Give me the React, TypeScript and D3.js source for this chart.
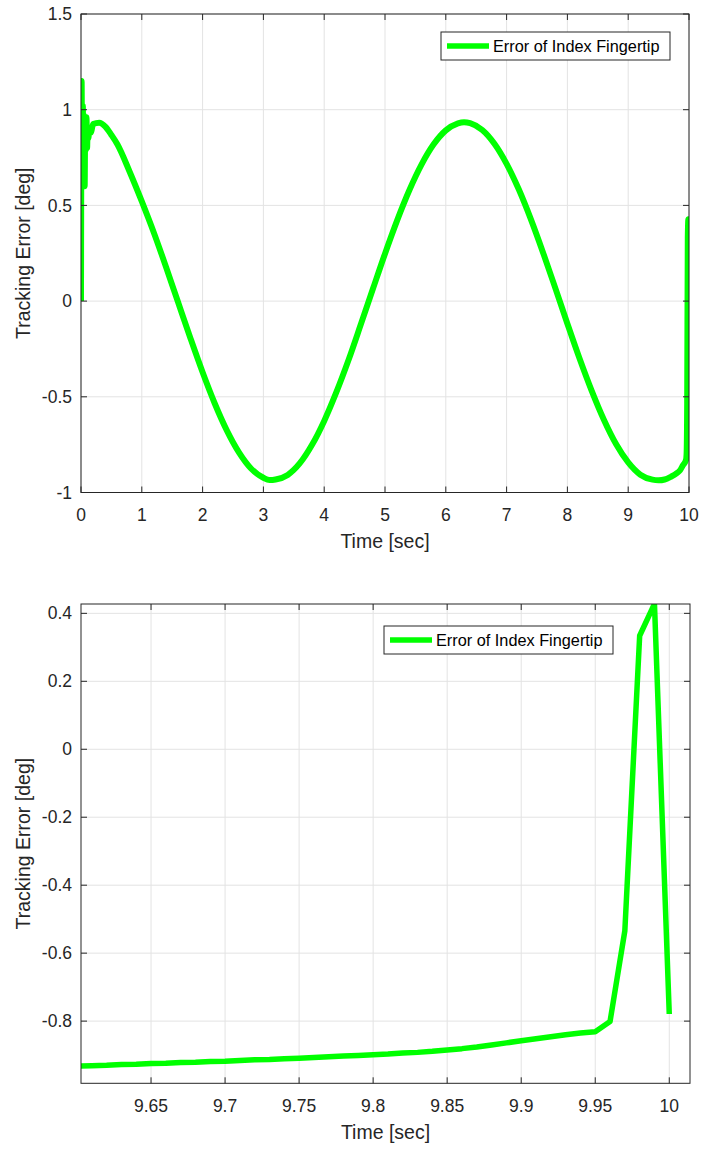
import React, { useEffect, useRef } from "react";
import * as d3 from "d3";

// full run, 0..10 s
const fullTime = [
  0, 0.01, 0.02, 0.03, 0.04, 0.05, 0.06, 0.07, 0.08, 0.09, 0.1, 0.11, 0.12, 0.14, 0.16,
  0.2, 0.3, 0.4, 0.5, 0.6, 0.8, 1.0, 1.2, 1.4, 1.6, 1.8, 2.0, 2.2, 2.4, 2.6, 2.8,
  3.0, 3.1, 3.2, 3.4, 3.6, 3.8, 4.0, 4.2, 4.4, 4.6, 4.8, 5.0, 5.2, 5.4, 5.6, 5.8,
  6.0, 6.2, 6.3, 6.4, 6.6, 6.8, 7.0, 7.2, 7.4, 7.6, 7.8, 8.0, 8.2, 8.4, 8.6, 8.8,
  9.0, 9.2, 9.4, 9.5, 9.6, 9.7, 9.8, 9.85, 9.9, 9.95, 9.96, 9.97, 9.98, 9.99, 10.0,
];
const fullError = [
  0, 1.15, 0.62, 1.02, 0.66, 0.97, 0.6, 0.95, 0.79, 0.96, 0.8, 0.91, 0.85, 0.9, 0.88,
  0.925, 0.932, 0.912, 0.868, 0.818, 0.676, 0.521, 0.356, 0.177, -0.009, -0.194, -0.372, -0.535, -0.677, -0.792, -0.876,
  -0.923, -0.935, -0.932, -0.908, -0.847, -0.751, -0.626, -0.476, -0.308, -0.124, 0.063, 0.248, 0.422, 0.579, 0.713, 0.819,
  0.892, 0.929, 0.935, 0.93, 0.894, 0.822, 0.717, 0.584, 0.427, 0.253, 0.069, -0.118, -0.3, -0.469, -0.62, -0.747,
  -0.843, -0.907, -0.933, -0.936, -0.932, -0.918, -0.899, -0.885, -0.858, -0.831, -0.801, -0.534, 0.334, 0.428, -0.779,
];

// zoom on the last 0.4 s
const zoomTime = [
  9.6, 9.61, 9.62, 9.63, 9.64, 9.65, 9.66, 9.67, 9.68, 9.69, 9.7, 9.71, 9.72, 9.73, 9.74,
  9.75, 9.76, 9.77, 9.78, 9.79, 9.8, 9.81, 9.82, 9.83, 9.84, 9.85, 9.86, 9.87, 9.88, 9.89,
  9.9, 9.91, 9.92, 9.93, 9.94, 9.95, 9.96, 9.97, 9.98, 9.99, 10.0,
];
const zoomError = [
  -0.932, -0.931, -0.93, -0.928, -0.927, -0.925, -0.924, -0.922, -0.921, -0.919, -0.918, -0.916, -0.914, -0.913, -0.911,
  -0.909, -0.907, -0.905, -0.903, -0.901, -0.899, -0.897, -0.894, -0.892, -0.889, -0.885, -0.881, -0.876, -0.87, -0.864,
  -0.858, -0.852, -0.846, -0.84, -0.835, -0.831, -0.801, -0.534, 0.334, 0.428, -0.779,
];

const fullXTicks = [0, 1, 2, 3, 4, 5, 6, 7, 8, 9, 10];
const fullYTicks = [-1, -0.5, 0, 0.5, 1, 1.5];
const zoomXTicks = [9.65, 9.7, 9.75, 9.8, 9.85, 9.9, 9.95, 10];
const zoomYTicks = [-0.8, -0.6, -0.4, -0.2, 0, 0.2, 0.4];

const legendLabel = "Error of Index Fingertip";
const xLabel = "Time [sec]";
const yLabel = "Tracking Error [deg]";

const FONT = "'Liberation Sans', Arial, Helvetica, sans-serif";
const AXIS = "#262626";
const GRID = "#e3e3e3";
const GREEN = "#00ff00";

type Panel = {
  id: string;
  t: number[];
  e: number[];
  smooth: boolean;
  lw: number;
  xDomain: [number, number];
  yDomain: [number, number];
  xTicks: number[];
  yTicks: number[];
  box: { left: number; right: number; top: number; bottom: number };
  legend: { x: number; y: number };
};

const panels: Panel[] = [
  {
    id: "full",
    t: fullTime,
    e: fullError,
    smooth: true,
    lw: 6,
    xDomain: [0, 10],
    yDomain: [-1, 1.5],
    xTicks: fullXTicks,
    yTicks: fullYTicks,
    box: { left: 81, right: 689, top: 14, bottom: 492.5 },
    legend: { x: 441, y: 32 },
  },
  {
    id: "zoom",
    t: zoomTime,
    e: zoomError,
    smooth: false,
    lw: 5.5,
    xDomain: [9.6027, 10.014],
    yDomain: [-0.983, 0.4275],
    xTicks: zoomXTicks,
    yTicks: zoomYTicks,
    box: { left: 81, right: 690, top: 604, bottom: 1083.3 },
    legend: { x: 384, y: 626 },
  },
];

const App = () => {
  const svgRef = useRef<SVGSVGElement>(null);

  useEffect(() => {
    const svg = d3.select(svgRef.current);
    svg.selectAll("*").remove();

    panels.forEach((p) => {
      const { left, right, top, bottom } = p.box;
      const x = d3.scaleLinear().domain(p.xDomain).range([left, right]);
      const y = d3.scaleLinear().domain(p.yDomain).range([bottom, top]);
      const g = svg.append("g");

      // grid
      g.selectAll(".gx")
        .data(p.xTicks)
        .enter()
        .append("line")
        .attr("x1", (d) => x(d))
        .attr("x2", (d) => x(d))
        .attr("y1", top)
        .attr("y2", bottom)
        .attr("stroke", GRID)
        .attr("stroke-width", 1);
      g.selectAll(".gy")
        .data(p.yTicks)
        .enter()
        .append("line")
        .attr("x1", left)
        .attr("x2", right)
        .attr("y1", (d) => y(d))
        .attr("y2", (d) => y(d))
        .attr("stroke", GRID)
        .attr("stroke-width", 1);

      // data line, clipped to the axes
      g.append("clipPath")
        .attr("id", `clip-${p.id}`)
        .append("rect")
        .attr("x", left)
        .attr("y", top)
        .attr("width", right - left)
        .attr("height", bottom - top);

      const pts = p.t.map((t, i) => [t, p.e[i]] as [number, number]);
      const line = d3
        .line<[number, number]>()
        .x((d) => x(d[0]))
        .y((d) => y(d[1]))
        .curve(p.smooth ? d3.curveMonotoneX : d3.curveLinear);
      g.append("path")
        .datum(pts)
        .attr("clip-path", `url(#clip-${p.id})`)
        .attr("fill", "none")
        .attr("stroke", GREEN)
        .attr("stroke-width", p.lw)
        .attr("stroke-linejoin", "round")
        .attr("stroke-linecap", "butt")
        .attr("d", line);

      // axes box with inward ticks on all sides
      const tl = 6;
      const axis = g.append("g").attr("stroke", AXIS).attr("stroke-width", 1);
      axis
        .append("rect")
        .attr("x", left)
        .attr("y", top)
        .attr("width", right - left)
        .attr("height", bottom - top)
        .attr("fill", "none");
      p.xTicks.forEach((d) => {
        axis.append("line").attr("x1", x(d)).attr("x2", x(d)).attr("y1", bottom).attr("y2", bottom - tl);
        axis.append("line").attr("x1", x(d)).attr("x2", x(d)).attr("y1", top).attr("y2", top + tl);
      });
      p.yTicks.forEach((d) => {
        axis.append("line").attr("x1", left).attr("x2", left + tl).attr("y1", y(d)).attr("y2", y(d));
        axis.append("line").attr("x1", right).attr("x2", right - tl).attr("y1", y(d)).attr("y2", y(d));
      });

      // tick labels
      const fmt = (d: number) => String(d);
      g.selectAll(".xl")
        .data(p.xTicks)
        .enter()
        .append("text")
        .attr("x", (d) => x(d))
        .attr("y", bottom + 28.5)
        .attr("text-anchor", "middle")
        .attr("font-family", FONT)
        .attr("font-size", 17.5)
        .attr("fill", AXIS)
        .text(fmt);
      g.selectAll(".yl")
        .data(p.yTicks)
        .enter()
        .append("text")
        .attr("x", left - 9)
        .attr("y", (d) => y(d))
        .attr("dy", "0.35em")
        .attr("text-anchor", "end")
        .attr("font-family", FONT)
        .attr("font-size", 17.5)
        .attr("fill", AXIS)
        .text(fmt);

      // axis labels
      g.append("text")
        .attr("x", (left + right) / 2)
        .attr("y", bottom + 55.5)
        .attr("text-anchor", "middle")
        .attr("font-family", FONT)
        .attr("font-size", 19.5)
        .attr("fill", AXIS)
        .text(xLabel);
      g.append("text")
        .attr("transform", `translate(30,${(top + bottom) / 2}) rotate(-90)`)
        .attr("text-anchor", "middle")
        .attr("font-family", FONT)
        .attr("font-size", 19.5)
        .attr("fill", AXIS)
        .text(yLabel);

      // legend
      const lg = g.append("g").attr("transform", `translate(${p.legend.x},${p.legend.y})`);
      lg.append("rect")
        .attr("width", 229)
        .attr("height", 28)
        .attr("fill", "white")
        .attr("stroke", AXIS)
        .attr("stroke-width", 1);
      lg.append("line")
        .attr("x1", 6)
        .attr("x2", 48)
        .attr("y1", 14)
        .attr("y2", 14)
        .attr("stroke", GREEN)
        .attr("stroke-width", 5.5);
      lg.append("text")
        .attr("x", 52)
        .attr("y", 14)
        .attr("dy", "0.35em")
        .attr("font-family", FONT)
        .attr("font-size", 16.3)
        .attr("fill", "#000")
        .text(legendLabel);
    });
  }, []);

  return (
    <svg
      ref={svgRef}
      width={702}
      height={1150}
      style={{ position: "absolute", left: 0, top: 0, background: "white" }}
    />
  );
};

export default App;
